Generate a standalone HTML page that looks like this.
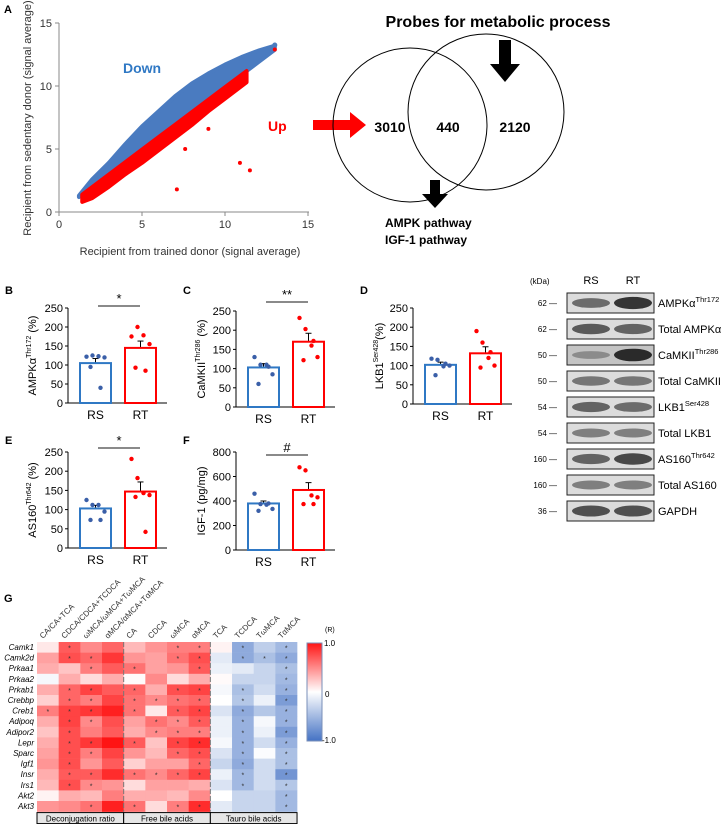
<!DOCTYPE html>
<html><head><meta charset="utf-8"><style>
html,body{margin:0;padding:0;background:#fff;width:728px;height:824px;overflow:hidden}
svg{font-family:"Liberation Sans",sans-serif;display:block}
</style></head><body>
<svg id="fig" width="728" height="824" viewBox="0 0 728 824" xmlns="http://www.w3.org/2000/svg">
<g id="panelA"></g>
<g id="venn">
<text x="498" y="27" font-size="16" font-weight="bold" text-anchor="middle">Probes for metabolic process</text>
<polygon points="499,40 511,40 511,64 520,64 505,82 490,64 499,64" fill="#000"/>
<polygon points="313,120 350,120 350,112 366,125 350,138 350,130 313,130" fill="#ff0000"/>
<circle cx="410" cy="125" r="77" fill="none" stroke="#000" stroke-width="1"/>
<circle cx="486" cy="112" r="78" fill="none" stroke="#000" stroke-width="1"/>
<text x="390" y="132" font-size="14" font-weight="bold" text-anchor="middle">3010</text>
<text x="448" y="132" font-size="14" font-weight="bold" text-anchor="middle">440</text>
<text x="515" y="132" font-size="14" font-weight="bold" text-anchor="middle">2120</text>
<polygon points="430,180 440,180 440,194 448,194 435,208 422,194 430,194" fill="#000"/>
<text x="385" y="227" font-size="12" font-weight="bold">AMPK pathway</text>
<text x="385" y="244" font-size="12" font-weight="bold">IGF-1 pathway</text>
</g>
<g id="bars"></g>
<g id="blot"></g>
<g id="heat"></g>
</svg>
<script>
const NS="http://www.w3.org/2000/svg";
function mk(parent,tag,attrs,txt){const e=document.createElementNS(NS,tag);for(const k in attrs)e.setAttribute(k,attrs[k]);if(txt!==undefined)e.textContent=txt;parent.appendChild(e);return e;}

/* ---------- Panel A data ---------- */
const scatterEdgeX=[1.2,2,3,4,5,6,7,8,9,10,11,12,13];
const blueUpperY=[1.3,2.6,3.9,5.4,6.8,8.0,9.2,10.2,11.0,11.7,12.3,12.8,13.2];
const redEdgeX=[1.4,2,3,4,5,6,7,8,9,10,11.3];
const redLowerY=[0.8,1.1,2.0,3.0,3.9,4.9,5.9,6.9,8.0,9.0,10.3];
const redOutX=[7.1,10.9,11.5,5.3,7.6,9.0,13.0];
const redOutY=[1.8,3.9,3.3,4.3,5.0,6.6,12.9];
const scatterTicks=[0,5,10,15];

const A=document.getElementById('panelA');
const ax=v=>59+v*16.6, ay=v=>212-v*12.6;
mk(A,'text',{x:4,y:13,'font-size':11,'font-weight':'bold'},'A');
let pb=[];scatterEdgeX.forEach((x,i)=>pb.push(ax(x)+','+ay(blueUpperY[i])));
for(let i=scatterEdgeX.length-1;i>=0;i--)pb.push(ax(scatterEdgeX[i])+','+ay(scatterEdgeX[i]*0.99));
let blue=mk(A,'polygon',{points:pb.join(' '),fill:'#4a7bc0',stroke:'#4a7bc0','stroke-width':4,'stroke-linejoin':'round'});


let pr=[];redEdgeX.forEach((x,i)=>pr.push(ax(x)+','+ay(x*0.99)));
for(let i=redEdgeX.length-1;i>=0;i--)pr.push(ax(redEdgeX[i])+','+ay(redLowerY[i]));
let red=mk(A,'polygon',{points:pr.join(' '),fill:'#ff0000',stroke:'#ff0000','stroke-width':4,'stroke-linejoin':'round'});


mk(A,'circle',{cx:ax(13),cy:ay(13.25),r:2.5,fill:'#4a7bc0'});
redOutX.forEach((x,i)=>{const c=mk(A,'circle',{cx:ax(x),cy:ay(redOutY[i]),r:2,fill:'#ff0000'});

});
mk(A,'line',{x1:59,y1:23,x2:59,y2:212,stroke:'#888'});
mk(A,'line',{x1:59,y1:212,x2:309,y2:212,stroke:'#888'});
scatterTicks.forEach(t=>{
 mk(A,'line',{x1:55,y1:ay(t),x2:59,y2:ay(t),stroke:'#888'});
 mk(A,'line',{x1:ax(t),y1:212,x2:ax(t),y2:216,stroke:'#888'});
 const ty=mk(A,'text',{x:52,y:ay(t)+4,'font-size':11,'text-anchor':'end',fill:'#333'},t);
 
 const tx=mk(A,'text',{x:ax(t),y:228,'font-size':11,'text-anchor':'middle',fill:'#333'},t);
 
});
mk(A,'text',{x:190,y:255,'font-size':11,'text-anchor':'middle',fill:'#333'},'Recipient from trained donor (signal average)');
mk(A,'text',{x:0,y:0,'font-size':11,'text-anchor':'middle',fill:'#333',transform:'translate(31,118) rotate(-90)'},'Recipient from sedentary donor (signal average)');
mk(A,'text',{x:123,y:73,'font-size':14,'font-weight':'bold',fill:'#2f78c4'},'Down');
mk(A,'text',{x:268,y:131,'font-size':14,'font-weight':'bold',fill:'#ff0000'},'Up');

/* ---------- Bar panels data ---------- */
const groupNames=['RS','RT'];
const bMeans=[105,145], bSem=[12,18], bRS=[122,125,123,120,95,40], bRT=[175,200,178,155,93,85];
const cMeans=[103,170], cSem=[10,22], cRS=[130,110,110,85,60,105], cRT=[232,203,160,130,122,172];
const dMeans=[102,132], dSem=[7,17], dRS=[118,115,98,100,75,105], dRT=[190,160,120,100,95,135];
const eMeans=[103,147], eSem=[8,25], eRS=[125,112,112,95,73,73], eRT=[232,182,143,138,133,42];
const fMeans=[380,490], fSem=[20,60], fRS=[460,375,370,335,320,380], fRT=[675,650,445,430,375,375];
const pctTicks=[0,50,100,150,200,250], igfTicks=[0,200,400,600,800];

const B=document.getElementById('bars');
function barPanel(o){
 const g=mk(B,'g',{});
 
 
 const X=o.axisX, y0=o.y0, yT=o.yTop, max=o.ticks[o.ticks.length-1];
 const sy=v=>y0-(v/max)*(y0-yT);
 mk(g,'text',{x:o.lx,y:o.ly,'font-size':11,'font-weight':'bold'},o.label);
 mk(g,'line',{x1:X,y1:yT,x2:X,y2:y0,stroke:'#000'});
 mk(g,'line',{x1:X,y1:y0,x2:X+99,y2:y0,stroke:'#000'});
 o.ticks.forEach(t=>{mk(g,'line',{x1:X-3,y1:sy(t),x2:X,y2:sy(t),stroke:'#000'});
  const tl=mk(g,'text',{x:X-5,y:sy(t)+4,'font-size':11,'text-anchor':'end'},t);
  });
 const cols=['#2f78c4','#ff0000'], dots=['#3a5fa8','#ff0000'], lefts=[X+12,X+57];
 [o.rs,o.rt].forEach((pts,i)=>{
  const l=lefts[i], w=31, cx=l+w/2;
  mk(g,'line',{x1:cx,y1:sy(o.means[i]),x2:cx,y2:sy(o.means[i]+o.sem[i]),stroke:'#000'});
  mk(g,'line',{x1:cx-3,y1:sy(o.means[i]+o.sem[i]),x2:cx+3,y2:sy(o.means[i]+o.sem[i]),stroke:'#000'});
  const r=mk(g,'rect',{x:l,y:sy(o.means[i]),width:w,height:y0-sy(o.means[i]),fill:'#fff',stroke:cols[i],'stroke-width':2});
  
  
  const offs=[-9,-3,3,9,-5,5];
  pts.forEach((v,j)=>{const c=mk(g,'circle',{cx:cx+offs[j%6],cy:sy(v),r:2.2,fill:dots[i]});
   
   });
  const xl=mk(g,'text',{x:cx,y:y0+16,'font-size':12,'text-anchor':'middle'},groupNames[i]);
  
 });
 if(o.sig){mk(g,'line',{x1:X+30,y1:o.sigY,x2:X+72,y2:o.sigY,stroke:'#444','stroke-width':1.2});
  mk(g,'text',{x:X+51,y:o.sigY-3,'font-size':13,'text-anchor':'middle'},o.sig);}
 const t=mk(g,'text',{'font-size':11,'text-anchor':'middle',transform:`translate(${o.tx},${(y0+yT)/2}) rotate(-90)`});
 
 mk(t,'tspan',{},o.t1);mk(t,'tspan',{'font-size':7,dy:-5},o.sup);mk(t,'tspan',{dy:5},o.t2);
}
barPanel({name:'panel-b',label:'B',lx:5,ly:294,axisX:68,y0:403,yTop:308,ticks:pctTicks,means:bMeans,sem:bSem,rs:bRS,rt:bRT,sig:'*',sigY:306,tx:36,t1:'AMPKα',sup:'Thr172',t2:' (%)'});
barPanel({name:'panel-c',label:'C',lx:183,ly:294,axisX:236,y0:407,yTop:311,ticks:pctTicks,means:cMeans,sem:cSem,rs:cRS,rt:cRT,sig:'**',sigY:302,tx:205,t1:'CaMKII',sup:'Thr286',t2:' (%)'});
barPanel({name:'panel-d',label:'D',lx:360,ly:294,axisX:413,y0:404,yTop:308,ticks:pctTicks,means:dMeans,sem:dSem,rs:dRS,rt:dRT,tx:383,t1:'LKB1',sup:'Ser428',t2:'(%)'});
barPanel({name:'panel-e',label:'E',lx:5,ly:444,axisX:68,y0:548,yTop:452,ticks:pctTicks,means:eMeans,sem:eSem,rs:eRS,rt:eRT,sig:'*',sigY:448,tx:36,t1:'AS160',sup:'Thr642',t2:' (%)'});
barPanel({name:'panel-f',label:'F',lx:183,ly:444,axisX:236,y0:550,yTop:452,ticks:igfTicks,means:fMeans,sem:fSem,rs:fRS,rt:fRT,sig:'#',sigY:455,tx:205,t1:'IGF-1 (pg/mg)',sup:'',t2:''});

/* ---------- Western blot ---------- */
const blotKda=['62','62','50','50','54','54','160','160','36'];
const blotName=[['AMPKα','Thr172'],['Total AMPKα',''],['CaMKII','Thr286'],['Total CaMKII',''],['LKB1','Ser428'],['Total LKB1',''],['AS160','Thr642'],['Total AS160',''],['GAPDH','']];
const bandRS=[0.6,0.7,0.35,0.55,0.65,0.5,0.65,0.5,0.75];
const bandRT=[0.9,0.65,0.95,0.55,0.6,0.5,0.8,0.5,0.75];
const W=document.getElementById('blot');
mk(W,'text',{x:530,y:284,'font-size':8},'(kDa)');
mk(W,'text',{x:591,y:284,'font-size':11,'text-anchor':'middle'},'RS');
mk(W,'text',{x:633,y:284,'font-size':11,'text-anchor':'middle'},'RT');
blotName.forEach((n,i)=>{
 const y=293+i*26;
 const bg=(i==2)?'#c4c4c4':'#dcdcdc';
 const box=mk(W,'rect',{x:567,y:y,width:87,height:20,fill:bg,stroke:'#222','stroke-width':1});
 
 
 [[591,bandRS[i]],[633,bandRT[i]]].forEach(([cx,v])=>{
  mk(W,'ellipse',{cx:cx,cy:y+10,rx:19,ry:2.5+v*4,fill:'#222','fill-opacity':v});
 });
 mk(W,'text',{x:557,y:y+13,'font-size':8,'text-anchor':'end'},blotKda[i]+' —');
 const t=mk(W,'text',{x:658,y:y+14,'font-size':11});
 
 mk(t,'tspan',{},n[0]);
 if(n[1])mk(t,'tspan',{'font-size':7.5,dy:-5},n[1]);
});

/* ---------- Heatmap ---------- */
const genes=['Camk1','Camk2d','Prkaa1','Prkaa2','Prkab1','Crebbp','Creb1','Adipoq','Adipor2','Lepr','Sparc','Igf1','Insr','Irs1','Akt2','Akt3'];
const acids=['CA/CA+TCA','CDCA/CDCA+TCDCA','ωMCA/ωMCA+TωMCA','αMCA/αMCA+TαMCA','CA','CDCA','ωMCA','αMCA','TCA','TCDCA','TωMCA','TαMCA'];
const rVals=[
[0.1,0.7,0.5,0.65,0.3,0.45,0.55,0.55,0.05,-0.6,-0.35,-0.5],
[0.4,0.75,0.65,0.85,0.45,0.4,0.6,0.75,-0.15,-0.6,-0.45,-0.6],
[0.35,0.25,0.55,0.7,0.6,0.4,0.45,0.7,-0.1,-0.15,-0.3,-0.45],
[-0.05,0.35,0.15,0.35,0.02,0.5,0.15,0.35,0.02,-0.3,-0.3,-0.5],
[0.35,0.65,0.8,0.7,0.65,0.35,0.75,0.8,-0.05,-0.45,-0.25,-0.55],
[0.2,0.65,0.55,0.8,0.6,0.5,0.6,0.65,0,-0.4,-0.1,-0.7],
[0.55,0.8,0.85,0.95,0.6,0.1,0.7,0.8,-0.2,-0.6,-0.4,-0.55],
[0.35,0.8,0.5,0.75,0.4,0.6,0.5,0.7,-0.1,-0.55,-0.05,-0.55],
[0.25,0.75,0.55,0.7,0.35,0.5,0.55,0.55,-0.1,-0.55,-0.1,-0.7],
[0.35,0.75,0.85,1.0,0.7,0.25,0.8,0.9,-0.05,-0.55,-0.25,-0.55],
[0.4,0.75,0.55,0.8,0.45,0.3,0.65,0.75,-0.2,-0.55,-0.02,-0.45],
[0.45,0.75,0.45,0.7,0.2,0.4,0.4,0.65,-0.3,-0.6,-0.25,-0.45],
[0.35,0.7,0.7,0.9,0.6,0.5,0.65,0.8,-0.1,-0.5,-0.25,-0.75],
[0.3,0.75,0.5,0.45,0.15,0.4,0.4,0.35,-0.2,-0.5,-0.25,-0.4],
[0.05,0.35,0.3,0.55,0.35,0.35,0.3,0.5,0,-0.3,-0.3,-0.5],
[0.45,0.5,0.6,0.95,0.6,0.15,0.55,0.9,-0.15,-0.3,-0.3,-0.5]];
const sigCells=[[1,6,7,9,11],[1,2,6,7,9,10,11],[2,4,7,11],[11],[1,2,4,6,7,9,11],[1,2,4,5,6,7,9,11],[0,1,2,4,6,7,9,11],[1,2,5,6,7,9,11],[1,5,6,7,9,11],[1,2,4,6,7,9,11],[1,2,6,7,9,11],[1,7,9,11],[1,2,4,5,6,7,9,11],[1,2,9,11],[11],[2,4,6,7,11]];
const groupLabels=['Deconjugation ratio','Free bile acids','Tauro bile acids'];
const H=document.getElementById('heat');
const hx0=37,hy0=642,cw=21.67,ch=10.6;
function col(v){
 if(v>=0){const r=255,g=Math.round(255-v*235),b=Math.round(255-v*235);return `rgb(${r},${g},${b})`;}
 const a=-v;return `rgb(${Math.round(255-a*(255-68))},${Math.round(255-a*(255-114))},${Math.round(255-a*(255-196))})`;
}
mk(H,'text',{x:4,y:602,'font-size':11,'font-weight':'bold'},'G');
genes.forEach((gn,i)=>{
 const lbl=mk(H,'text',{x:34,y:hy0+i*ch+8,'font-size':8,'font-style':'italic','text-anchor':'end'},gn);
 
 rVals[i].forEach((v,j)=>{
  const c=mk(H,'rect',{x:hx0+j*cw,y:hy0+i*ch,width:cw+0.3,height:ch+0.3,fill:col(v)});
  
  
 });
 sigCells[i].forEach(j=>{mk(H,'text',{x:hx0+j*cw+cw/2,y:hy0+i*ch+8.5,'font-size':7,'text-anchor':'middle',fill:'#333'},'*');});
});
acids.forEach((a,j)=>{
 const t=mk(H,'text',{'font-size':8,fill:'#333',transform:`translate(${hx0+j*cw+cw/2-5},${hy0-3}) rotate(-45)`},a);
 
});
[4,8].forEach(j=>{mk(H,'line',{x1:hx0+j*cw,y1:hy0,x2:hx0+j*cw,y2:hy0+16*ch,stroke:'#777','stroke-width':1,'stroke-dasharray':'5,2'});});
const by=hy0+16*ch+1;
groupLabels.forEach((gl,k)=>{
 const gr=mk(H,'rect',{x:hx0+k*4*cw,y:by,width:4*cw,height:11,fill:'#e6e6e6',stroke:'#000','stroke-width':1});
 
 mk(H,'text',{x:hx0+k*4*cw+2*cw,y:by+9,'font-size':8,'text-anchor':'middle'},gl);
});
const defs=mk(H,'defs',{});const lg=mk(defs,'linearGradient',{id:'cb',x1:0,y1:0,x2:0,y2:1});
mk(lg,'stop',{offset:'0',"stop-color":col(1)});mk(lg,'stop',{offset:'0.5',"stop-color":'#fff'});mk(lg,'stop',{offset:'1',"stop-color":col(-1)});
const cb=mk(H,'rect',{x:307,y:643,width:15,height:98,fill:'url(#cb)',stroke:'#7a8fb8','stroke-width':1});


mk(H,'text',{x:325,y:632,'font-size':7},'(R)');
mk(H,'text',{x:324,y:646,'font-size':8},'1.0');
mk(H,'text',{x:325,y:697,'font-size':8},'0');
mk(H,'text',{x:322,y:743,'font-size':8},'-1.0');
</script>
</body></html>
